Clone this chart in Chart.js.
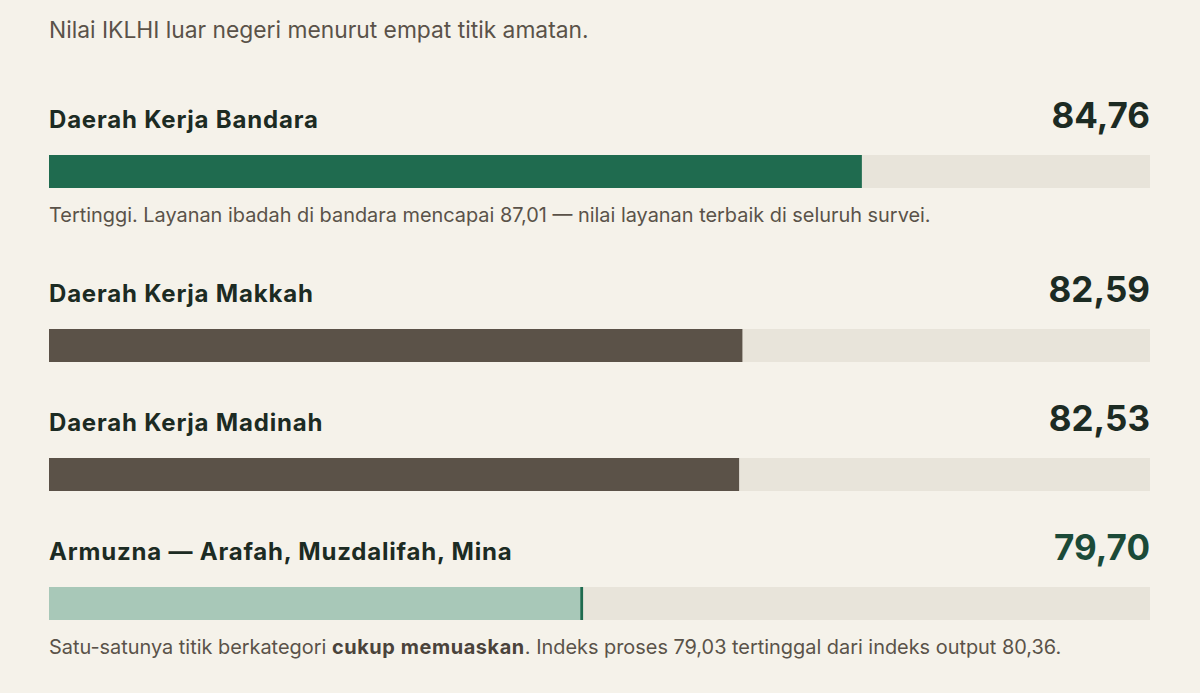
<!DOCTYPE html>
<html lang="id">
<head>
<meta charset="utf-8">
<title>IKLHI luar negeri</title>
<script src="https://cdn.jsdelivr.net/npm/chart.js@4"></script>
<style>
  html, body {
    margin: 0;
    background: #f5f2ea;
    font-family: Inter, Roboto, "Noto Sans", sans-serif;
  }
  .wrap {
    width: 1101px;
    padding-left: 49px;
  }
  .title {
    padding-top: 16px;
    line-height: 28px;
    font-size: 22.8px;
    color: #5a5249;
  }
  .row { padding-top: 36px; }
  .title + .row { padding-top: 51px; }
  .head {
    display: flex;
    justify-content: space-between;
    align-items: baseline;
    height: 40px;
    line-height: 40px;
  }
  .label {
    font-size: 24px;
    letter-spacing: 0.8px;
    font-weight: 700;
    color: #1c2b23;
  }
  .value {
    font-size: 35px;
    font-weight: 700;
    color: #1c2b23;
  }
  .value.low { color: #1b4a38; }
  .bar {
    position: relative;
    margin-top: 20px;
    height: 33px;
  }
  .note {
    padding: 15px 0 6px;
    line-height: 24px;
    font-size: 19.9px;
    color: #5a5249;
  }
  .note b { color: #4a433b; letter-spacing: 0.6px; }
</style>
</head>
<body>
<div class="wrap" id="wrap">
  <div class="title">Nilai IKLHI luar negeri menurut empat titik amatan.</div>
</div>
<script>
const categories = [
  "Daerah Kerja Bandara",
  "Daerah Kerja Makkah",
  "Daerah Kerja Madinah",
  "Armuzna — Arafah, Muzdalifah, Mina",
];
const scores = [84.76, 82.59, 82.53, 79.7];
const barColors = ["#1f6b4f", "#5b5248", "#5b5248", "#a8c8b8"];
const notes = [
  "Tertinggi. Layanan ibadah di bandara mencapai 87,01 — nilai layanan terbaik di seluruh survei.",
  "",
  "",
  "Satu-satunya titik berkategori <b>cukup memuaskan</b>. Indeks proses 79,03 tertinggal dari indeks output 80,36.",
];
const scaleMin = 70;
const scaleMax = 90;

function el(id) {
  return document.getElementById(id);
}

function fmt(v) {
  return v.toFixed(2).replace(".", ",");
}

function renderRow(i) {
  const row = document.createElement("div");
  row.className = "row";
  const isLow = i === scores.length - 1;
  row.innerHTML = `
    <div class="head">
      <span class="label">${categories[i]}</span>
      <span class="value${isLow ? " low" : ""}">${fmt(scores[i])}</span>
    </div>
    <div class="bar"><canvas></canvas></div>
    ${notes[i] ? `<div class="note">${notes[i]}</div>` : ""}
  `;
  el("wrap").appendChild(row);

  new Chart(row.querySelector("canvas"), {
    type: "bar",
    data: {
      labels: [categories[i]],
      datasets: [
        {
          data: [scores[i]],
          backgroundColor: barColors[i],
          borderColor: "#1f6b4f",
          borderWidth: isLow ? { top: 0, bottom: 0, left: 0, right: 3 } : 0,
          borderSkipped: false,
          order: 1,
        },
        {
          data: [scaleMax],
          backgroundColor: "#e8e4da",
          borderWidth: 0,
          order: 2,
        },
      ],
    },
    options: {
      indexAxis: "y",
      responsive: true,
      maintainAspectRatio: false,
      animation: false,
      datasets: {
        bar: { grouped: false, barPercentage: 1, categoryPercentage: 1 },
      },
      layout: { padding: 0 },
      scales: {
        x: { min: scaleMin, max: scaleMax, display: false },
        y: { display: false },
      },
      plugins: {
        legend: { display: false },
        tooltip: { enabled: false },
      },
    },
  });
}

scores.forEach((_, i) => renderRow(i));
</script>
</body>
</html>
